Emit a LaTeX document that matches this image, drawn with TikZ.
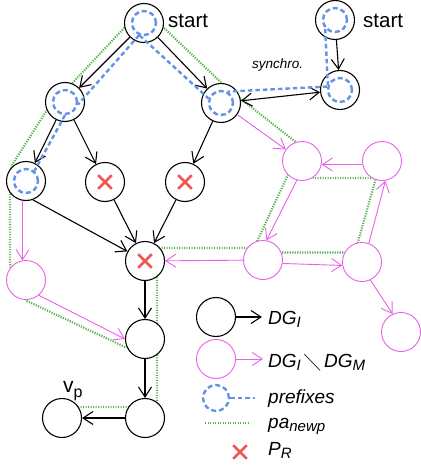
\documentclass[tikz,border=0pt]{standalone}
\usepackage{fontspec}
\usepackage{amssymb}
\setmainfont{Liberation Sans}
\usetikzlibrary{arrows.meta,shapes.misc}

\definecolor{netmag}{RGB}{232,96,232}
\definecolor{prefblue}{RGB}{102,146,230}
\definecolor{pathgreen}{RGB}{88,178,78}
\definecolor{crossred}{RGB}{238,88,82}

% lowered, slightly smaller index text
\newcommand\lowsub[1]{\raisebox{-3.5pt}{\fontsize{15}{15}\selectfont #1}}

\begin{document}
\begin{tikzpicture}[x=1pt,y=-1pt,
  nd/.style={circle,draw=black,fill=white,line width=1.1pt,minimum size=39pt,inner sep=0pt},
  mnd/.style={nd,draw=netmag,line width=0.9pt},
  pfx/.style={circle,draw=prefblue,line width=2.4pt,dash pattern=on 5pt off 3pt,minimum size=24pt,inner sep=0pt},
  arr/.style={line width=1.1pt,-{Straight Barb[length=10pt,width=13pt]}},
  arrtwo/.style={line width=1.1pt,{Straight Barb[length=10pt,width=13pt]}-{Straight Barb[length=10pt,width=13pt]}},
  marr/.style={arr,draw=netmag,line width=0.9pt},
  pfxline/.style={draw=prefblue,line width=2.4pt,dash pattern=on 4.5pt off 3pt},
  newpline/.style={draw=pathgreen,line width=2.1pt,dash pattern=on 1.2pt off 1.3pt},
  rcross/.style={cross out,draw=crossred,line width=2.6pt,minimum size=11pt,inner sep=0pt},
  lbl/.style={inner sep=0pt,anchor=base west,font=\fontsize{20.5}{24}\selectfont},
  leg/.style={inner sep=0pt,anchor=base west,font=\fontsize{19}{22}\selectfont\itshape},
]
\useasboundingbox (0,0) rectangle (420,468);

% new path (pa_newp), drawn beneath the states
\draw[newpline] (155,347) -- (125,347) -- (27,301) -- (13,287) -- (10,262)
  -- (10,175) -- (12,165) -- (47,110) -- (143,8) -- (229,90) -- (237,96)
  -- (306,150) -- (291,168) -- (254,248) -- (157,248) -- (157,407) -- (68,407);
\draw[newpline] (300,178) -- (376,178) -- (355,252.5) -- (270,252.5);

% states of DG_I
\node[nd] (S1) at (144,23) {};
\node[nd] (A) at (65,102) {};
\node[nd] (B) at (221,103) {};
\node[nd] (S2) at (335,20) {};
\node[nd] (S2b) at (340,90) {};
\node[nd] (C) at (26,181) {};
\node[nd] (D) at (105,182) {};
\node[nd] (E) at (185,182) {};
\node[nd] (F) at (145,261) {};
\node[nd] (H) at (145,339) {};
\node[nd] (I) at (145,418) {};
\node[nd] (vp) at (62,418) {};

% states of DG_I \ DG_M
\node[mnd] (G) at (26,280) {};
\node[mnd] (M1) at (302,161) {};
\node[mnd] (M2) at (382,161) {};
\node[mnd] (M3) at (263,260) {};
\node[mnd] (M4) at (362,262) {};
\node[mnd] (M5) at (401,332) {};

% transitions of DG_I
\draw[arr] (S1) -- (A);
\draw[arr] (S1) -- (B);
\draw[arr] (A) -- (C);
\draw[arr] (A) -- (D);
\draw[arr] (B) -- (E);
\draw[arr] (S2) -- (S2b);
\draw[arrtwo] (B) -- (S2b);
\draw[arr] (C.-70) -- (F);
\draw[arr] (D) -- (F);
\draw[arr] (E) -- (F);
\draw[arr] (F) -- (H);
\draw[arr] (H) -- (I);
\draw[arr] (I) -- (vp);

% transitions of DG_I \ DG_M
\draw[marr] (C.-100) -- (G.100);
\draw[marr] (G.-50) -- (H.west);
\draw[marr] (B) -- (M1);
\draw[marr] (M2.190) -- (M1.-10);
\draw[marr] (M1.-105) -- (M3.80);
\draw[marr] (M3.-10) -- (M4.190);
\draw[marr] (M4.70) -- (M2.-80);
\draw[marr] (M3) -- (F);
\draw[marr] (M4.-65) -- (M5.115);

% prefixes
\node[pfx] (S1in) at (S1) {};
\node[pfx] (Ain) at (A) {};
\node[pfx] (Bin) at (B) {};
\node[pfx] (Cin) at (C) {};
\node[pfx] (S2in) at (S2) {};
\node[pfx] (S2bin) at (S2b) {};
\draw[pfxline] (S1in.-112) -- (Ain.-11);
\draw[pfxline] (Ain.-90) -- (Cin.50);
\draw[pfxline] (S1in.-110) -- (Bin.160);
\draw[pfxline] (S2in.-138) -- (S2bin.157);
\draw[pfxline] (S2bin.165) -- (Bin.60);

% states in P_R
\node[rcross] (Dx) at (D) {};
\node[rcross] (Ex) at (E) {};
\node[rcross] (Fx) at (F) {};

% labels
\node[lbl] (start1) at (168,28) {start};
\node[lbl] (start2) at (363,28) {start};
\node[inner sep=0pt,anchor=base west,font=\fontsize{13.5}{16}\selectfont\itshape] (sync) at (252,69) {synchro.};
\node[inner sep=0pt,anchor=base west,font=\fontsize{21}{24}\selectfont] (vplbl) at (63,392)
  {v\raisebox{-5pt}{\fontsize{16}{16}\selectfont p}};

% legend
\node[nd] (LG1) at (216,317) {};
\coordinate (LG1end) at (262,317);
\draw[arr] (LG1) -- (LG1end);
\node[leg] (LG1t) at (268,324) {DG\lowsub{I}};

\node[mnd] (LG2) at (216,359) {};
\coordinate (LG2end) at (263,359);
\draw[marr] (LG2) -- (LG2end);
\node[leg] (LG2t) at (268,367) {DG\lowsub{I}\,$\diagdown$\,DG\lowsub{M}};

\node[pfx,minimum size=26pt] (LG3) at (216,398) {};
\coordinate (LG3end) at (255,398);
\draw[pfxline] (LG3.east) -- (LG3end);
\node[leg] (LG3t) at (268,403) {prefixes};

\coordinate (LG4a) at (205,423);
\coordinate (LG4b) at (250,423);
\draw[newpline] (LG4a) -- (LG4b);
\node[leg] (LG4t) at (268,428) {pa\lowsub{newp}};

\node[rcross] (LG5) at (240,452) {};
\node[leg] (LG5t) at (268,455) {P\lowsub{R}};
\end{tikzpicture}
\end{document}
